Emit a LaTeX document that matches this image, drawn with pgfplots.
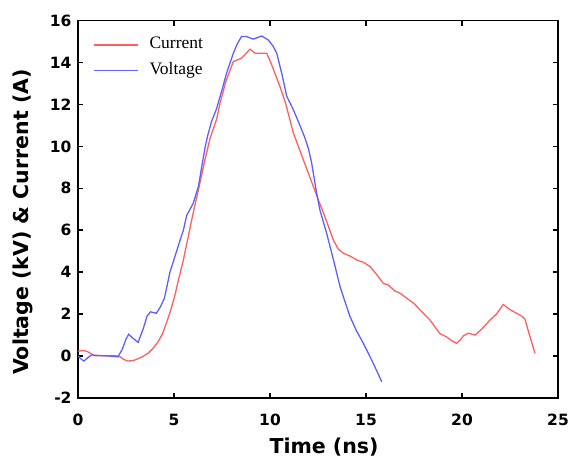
\documentclass[border=0pt]{standalone}
\usepackage{fontspec}
\setmainfont{Liberation Serif}
\setsansfont{DejaVu Sans}
\usepackage{pgfplots}
\pgfplotsset{compat=1.18}
\definecolor{cred}{RGB}{255,95,95}
\definecolor{cblue}{RGB}{95,95,255}
\begin{document}
\begin{tikzpicture}
\begin{axis}[
  name=ax,
  scale only axis,
  width=480bp, height=377bp,
  xmin=0, xmax=25, ymin=-2, ymax=16,
  xtick={0,5,10,15,20,25},
  ytick={-2,0,2,4,6,8,10,12,14,16},
  tick align=inside,
  major tick length=5bp,
  axis line style={line width=1.6bp},
  every tick/.style={black, line width=1.4bp},
  /pgf/number format/assume math mode=true,
  tick label style={font=\sffamily\bfseries\fontsize{15.5bp}{18bp}\selectfont},
  yticklabel style={xshift=-3bp},
  xticklabel style={yshift=-13bp},
  xlabel={Time (ns)},
  ylabel={Voltage (kV) \& Current (A)},
  label style={font=\sffamily\bfseries\fontsize{20.5bp}{24bp}\selectfont},
  xlabel style={at={(axis description cs:0.5125,-0.1475)}, anchor=base},
  ylabel style={at={(axis description cs:-0.1146,0.466)}, anchor=center},
  legend cell align=left,
  legend image code/.code={\draw[#1, line width=1.4bp] (0bp,0bp) -- (44bp,0bp); \path (54bp,0bp);},
  legend style={at={(axis description cs:0,1)}, anchor=north west,
    xshift=15bp, yshift=-15bp, draw=none, fill=none, inner sep=0pt,
    row sep=7.7bp, column sep=0bp,
    nodes={inner sep=1bp, text height=12bp, text depth=4bp},
    font=\rmfamily\fontsize{17.5bp}{21bp}\selectfont},
]
\addplot[cred, line width=1.3bp] coordinates {
(0.0,0.23) (0.3,0.25) (0.5,0.2) (0.87,0.0) (1.2,0.0) (1.6,0.0) (2.0,0.0)
(2.2,-0.05) (2.4,-0.18) (2.6,-0.25) (2.9,-0.22) (3.3,-0.07) (3.65,0.12)
(3.9,0.35) (4.17,0.67) (4.4,1.05) (4.6,1.55) (4.8,2.1) (5.03,2.82)
(5.2,3.5) (5.49,4.58) (5.7,5.5) (5.92,6.49) (6.27,7.92) (6.61,9.35)
(6.88,10.39) (7.22,11.3) (7.4,12.06) (7.7,13.1) (8.09,14.05) (8.52,14.21)
(8.96,14.64) (9.22,14.45) (9.83,14.45) (10.09,13.89) (10.52,12.85)
(10.8,12.1) (11.22,10.63) (11.74,9.35) (12.26,8.08) (12.52,7.44)
(12.86,6.64) (13.3,5.53) (13.55,5.1) (13.82,4.9) (14.2,4.75) (14.51,4.58)
(14.9,4.45) (15.21,4.26) (15.5,3.95) (15.9,3.46) (16.16,3.38) (16.5,3.1)
(16.77,2.99) (17.12,2.75) (17.5,2.5) (17.81,2.2) (18.33,1.71) (18.85,1.06)
(19.2,0.9) (19.5,0.7) (19.72,0.6) (19.9,0.75) (20.07,0.95) (20.33,1.08)
(20.68,0.99) (21.0,1.25) (21.46,1.71) (21.8,2.0) (22.15,2.45) (22.5,2.2)
(22.85,2.03) (23.1,1.9) (23.28,1.75) (23.54,0.91) (23.8,0.12)
};
\addlegendentry{Current}
\addplot[cblue, line width=1.3bp] coordinates {
(0.0,0.0) (0.15,-0.15) (0.31,-0.25) (0.5,-0.1) (0.7,0.04) (1.0,0.02)
(1.4,0.0) (1.8,-0.02) (2.08,-0.05) (2.3,0.3) (2.5,0.8) (2.64,1.03)
(2.85,0.85) (3.13,0.64) (3.4,1.3) (3.6,1.9) (3.78,2.1) (4.08,2.03)
(4.3,2.35) (4.5,2.75) (4.79,4.0) (5.0,4.6) (5.31,5.5) (5.49,6.0)
(5.66,6.7) (6.0,7.28) (6.27,8.08) (6.44,9.0) (6.61,9.9) (6.75,10.5)
(6.96,11.2) (7.22,11.8) (7.5,12.7) (7.74,13.5) (8.09,14.45) (8.3,14.9)
(8.52,15.25) (8.78,15.24) (9.13,15.12) (9.57,15.27) (9.91,15.08)
(10.15,14.8) (10.35,14.45) (10.61,13.49) (10.87,12.4) (11.22,11.74)
(11.56,11.0) (11.82,10.4) (12.0,9.9) (12.17,9.2) (12.43,7.76) (12.6,6.96)
(12.95,5.85) (13.3,4.6) (13.65,3.3) (13.9,2.6) (14.17,1.87) (14.5,1.2)
(14.86,0.6) (15.38,-0.36) (15.82,-1.24)
};
\addlegendentry{Voltage}
\end{axis}
\pgfresetboundingbox
\path[use as bounding box] ([xshift=-78bp,yshift=-62.3bp]ax.south west) rectangle ([xshift=11bp,yshift=20.7bp]ax.north east);
\end{tikzpicture}
\end{document}
